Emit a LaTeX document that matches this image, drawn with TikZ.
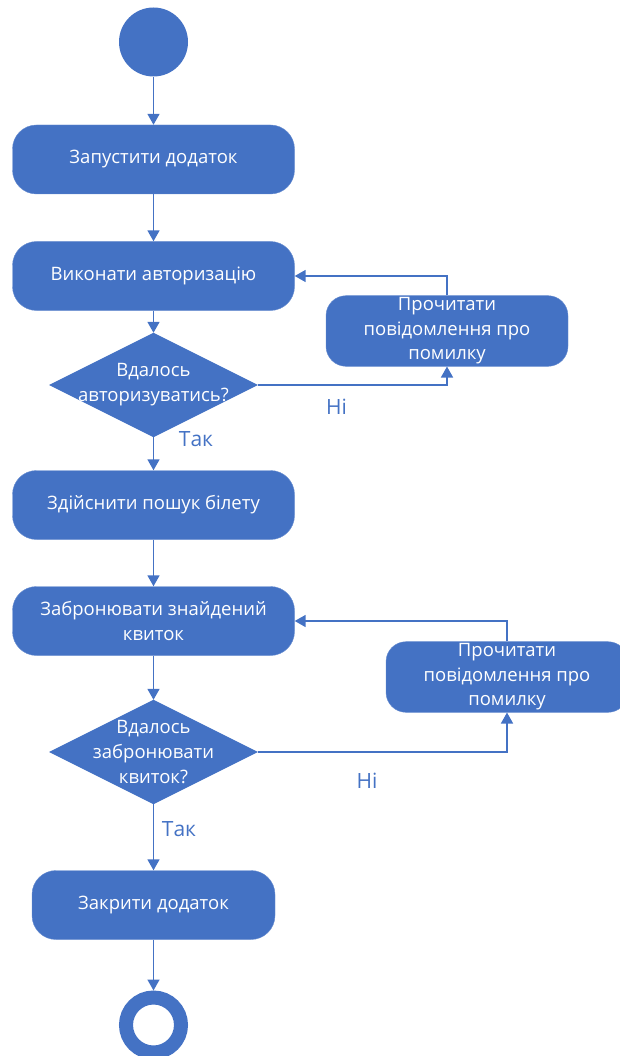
\documentclass[tikz,border=0pt]{standalone}
\usepackage{fontspec}
\setmainfont{Open Sans}
\usetikzlibrary{shapes.geometric,arrows.meta}
\definecolor{flowblue}{HTML}{4472C4}
\begin{document}
\begin{tikzpicture}[x=1pt,y=-1pt,
  act/.style={draw=flowblue!80!white,fill=flowblue,rounded corners=24pt,text=white,align=center,
    minimum width=282pt,minimum height=69pt,inner sep=2pt,font=\fontsize{18.5}{24.5}\selectfont},
  errbox/.style={act,minimum width=242pt,rounded corners=20pt},
  decide/.style={diamond,draw=flowblue,fill=flowblue,minimum width=208pt,minimum height=104pt,inner sep=0pt},
  dectext/.style={text=white,align=center,inner sep=0pt,font=\fontsize{18.5}{25}\selectfont},
  flow/.style={flowblue,line width=1.6pt,-{Triangle[width=12pt,length=11pt]}},
  answer/.style={text=flowblue,font=\fontsize{21}{24}\selectfont}]
\useasboundingbox (0,0) rectangle (619,1056);
\node[circle,fill=flowblue,minimum size=69pt,inner sep=0pt] (start) at (153.5,42) {};
\node[act] (run) at (153.5,159.5) {Запустити додаток};
\node[act] (auth) at (153.5,276) {Виконати авторизацію};
\node[errbox] (err1) at (447,331) {Прочитати\\повідомлення про\\помилку};
\node[decide,label={[dectext]center:Вдалось\\авторизуватись?}] (chk1) at (153.5,385) {};
\node[act] (search) at (153.5,505) {Здійснити пошук білету};
\node[act] (book) at (153.5,621) {Забронювати знайдений\\квиток};
\node[errbox] (err2) at (507,677) {Прочитати\\повідомлення про\\помилку};
\node[decide,label={[dectext]center:Вдалось\\забронювати\\квиток?}] (chk2) at (153.5,752) {};
\node[act,minimum width=243pt] (close) at (153.5,905) {Закрити додаток};
\node[circle,draw=flowblue,line width=14pt,minimum size=55pt,inner sep=0pt] (stop) at (153.5,1025) {};
\node[answer] (no1) at (336.5,407) {Ні};
\node[answer] (yes1) at (196,439) {Так};
\node[answer] (no2) at (367,781) {Ні};
\node[answer] (yes2) at (179,829) {Так};
\draw[flow] (start) -- (run);
\draw[flow] (run) -- (auth);
\draw[flow] (auth) -- (chk1);
\draw[flow] (chk1.east) -| (err1.south);
\draw[flow] (err1.north) |- (auth.east);
\draw[flow] (chk1) -- (search);
\draw[flow] (search) -- (book);
\draw[flow] (book) -- (chk2);
\draw[flow] (chk2.east) -| (err2.south);
\draw[flow] (err2.north) |- (book.east);
\draw[flow] (chk2) -- (close);
\draw[flow] (close) -- (stop);
\end{tikzpicture}
\end{document}
